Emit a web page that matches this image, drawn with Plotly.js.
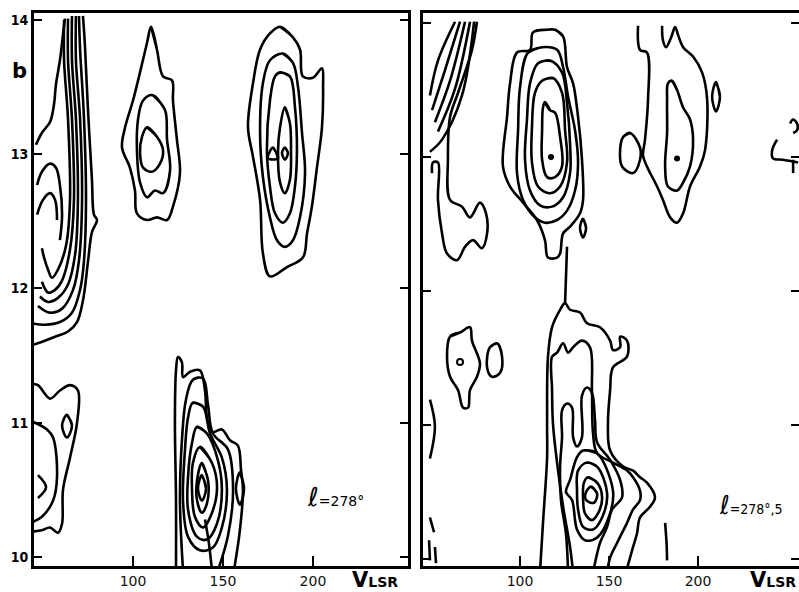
<!DOCTYPE html>
<html>
<head>
<meta charset="utf-8">
<script src="https://cdn.plot.ly/plotly-3.0.1.min.js"></script>
<style>html,body{margin:0;padding:0;background:#fff;}#chart{width:799px;height:592px;}</style>
</head>
<body>
<div id="chart"></div>
<script>
// ---------- axis ticks ----------
const vTicks = [100, 150, 200];
const vTickLabels = ['100', '150', '200'];
const bTicks = [10, 11, 12, 13, 14];
const bTickLabels = ['10', '11', '12', '13', '14'];

// ---------- LEFT PANEL (l = 278°) : contour lines [v_LSR, b] ----------
// clump near v=110, b=13
const L_a1 = [[110,13.95],[113.3,13.78],[116.7,13.58],[121.7,13.55],[122.2,13.40],[124.4,13.11],[126.1,12.86],[122.2,12.61],[118.9,12.51],[113.3,12.53],[107.8,12.51],[102.2,12.56],[101.1,12.73],[98.3,12.90],[93.9,13.05],[95.6,13.20],[100,13.40],[103.9,13.61],[107.8,13.83]];
const L_a2 = [[111.1,13.44],[117.8,13.33],[118.9,13.11],[120.6,12.88],[116.7,12.71],[112.2,12.73],[107.8,12.68],[103.9,12.79],[102.2,13.03],[102.8,13.26],[105.6,13.40]];
const L_a3 = [[107.8,13.20],[113.3,13.13],[116.7,13.03],[115,12.93],[110.6,12.87],[105.6,12.90],[103.9,13.01],[105,13.13]];
// clump near v=185, b=13
const L_b1 = [[181.7,13.95],[188.9,13.87],[192.8,13.78],[194.4,13.58],[200,13.57],[205,13.64],[205.6,13.50],[205,13.20],[202.2,12.90],[199.4,12.61],[196.7,12.41],[194.4,12.23],[185.6,12.16],[176.1,12.09],[172.2,12.26],[170.6,12.66],[166.7,12.98],[163.9,13.20],[166.7,13.53],[170.6,13.78],[176.1,13.90]];
const L_b2 = [[183.3,13.75],[188.9,13.68],[191.7,13.50],[193.9,13.16],[195.6,12.86],[192.8,12.53],[188.9,12.36],[184.4,12.31],[180,12.36],[176.1,12.53],[172.2,12.83],[170.6,13.16],[172.2,13.53],[176.1,13.70]];
const L_b3 = [[181.7,13.61],[187.2,13.58],[190,13.35],[191.1,13.03],[190,12.76],[187.2,12.56],[183.3,12.49],[178.9,12.56],[176.1,12.76],[174.4,13.03],[176.1,13.40],[178.9,13.58]];
const L_b4 = [[184.4,13.35],[187.2,13.23],[187.8,13.03],[187.2,12.81],[184.4,12.71],[181.7,12.79],[180.6,13.03],[181.7,13.20]];
const L_b5 = [[177.8,13.05],[180.6,12.97],[175,12.97]];
const L_b6 = [[184.4,13.05],[186.1,13.01],[184.4,12.96],[182.8,13.01]];
// ridge along the left edge
const L_r1 = [[72.2,14.03],[73.3,13.81],[75.0,13.33],[77.2,12.81],[78.3,12.55],[80.0,12.51],[77.2,12.42],[75.0,12.20],[72.2,11.91],[68.9,11.75],[63.9,11.68],[56.7,11.64],[46.7,11.59],[44,11.58]];
const L_r2 = [[70.0,14.03],[70.6,13.78],[72.8,13.26],[73.9,12.66],[72.8,12.21],[70.6,11.99],[66.1,11.82],[59.4,11.75],[51.1,11.73],[44,11.74]];
const L_r3 = [[68.3,14.03],[68.3,13.70],[70.6,13.26],[71.7,12.66],[70.0,12.21],[66.7,11.99],[60.6,11.85],[53.9,11.82],[47.2,11.87]];
const L_r4 = [[66.1,14.03],[66.1,13.70],[68.3,13.26],[69.4,12.66],[67.8,12.25],[63.9,12.03],[58.3,11.93],[52.8,11.90],[48.3,11.94]];
const L_r5 = [[63.9,14.01],[63.9,13.70],[66.1,13.26],[67.2,12.66],[65.0,12.29],[60.6,12.06],[56.7,11.99],[52.8,11.97],[49.4,12.05]];
const L_r6 = [[61.7,14.0],[61.7,13.70],[63.9,13.26],[65.0,12.66],[62.8,12.32],[58.3,12.14],[55.0,12.08],[52.8,12.14],[50.6,12.23],[49.4,12.30]];
const L_w1 = [[46.1,13.07],[49.4,13.16],[53.9,13.24],[56.1,13.37],[57.2,13.52],[59.4,13.70],[61.1,13.89],[62.2,14.01]];
const L_w2 = [[46.7,12.77],[49.4,12.87],[53.9,12.93],[57.2,12.90],[59.4,12.77],[60.6,12.55],[59.4,12.36]];
const L_w3 = [[46.7,12.55],[50.0,12.66],[53.9,12.71],[56.7,12.66],[57.8,12.51]];
// lower-left feature
const L_c1 = [[44,11.29],[47.2,11.28],[53.9,11.18],[59.4,11.24],[65.0,11.28],[69.4,11.24],[68.9,11.0],[65.0,10.74],[61.1,10.50],[60.6,10.25],[58.3,10.18],[53.9,10.22],[49.4,10.20],[44,10.19]];
const L_c2 = [[44,11.01],[52.2,10.95],[55.6,10.89],[57.8,10.60],[55.6,10.42],[49.4,10.30],[44,10.26]];
const L_c3 = [[63.3,11.06],[66.1,10.98],[63.3,10.89],[60.6,10.98]];
const L_c4 = [[47.2,10.61],[51.7,10.52],[47.2,10.44]];
// clump near v=138, b=10.5
const L_d0 = [[123.9,9.9],[123.9,10.42],[123.3,11.02],[123.9,11.39],[125.0,11.49],[127.2,11.45],[127.8,11.34],[131.7,11.38],[137.2,11.39],[140.0,11.24],[141.1,11.04],[143.9,10.93],[149.4,10.95],[153.9,10.87],[158.3,10.83],[160.0,10.65],[161.1,10.50],[159.4,10.20],[156.1,9.9]];
const L_d1 = [[127.8,9.9],[126.1,10.42],[127.2,10.87],[129.4,11.17],[133.3,11.32],[138.9,11.33],[141.7,11.13],[144.4,10.92],[152.8,10.80],[155.6,10.50],[152.8,10.16],[147.2,9.9]];
const L_d2 = [[133.3,11.15],[138.9,11.12],[142.8,10.92],[149.4,10.74],[152.2,10.50],[149.4,10.22],[144.4,10.07],[137.2,10.05],[130.6,10.15],[127.8,10.42],[128.9,10.80],[130.6,11.04]];
const L_d3 = [[135.6,10.97],[141.1,10.92],[147.2,10.72],[149.4,10.50],[146.7,10.25],[141.1,10.13],[135.6,10.15],[130.6,10.35],[130.6,10.60],[132.8,10.85]];
const L_d4 = [[137.2,10.82],[143.9,10.70],[146.7,10.52],[143.9,10.33],[138.9,10.22],[134.4,10.30],[132.8,10.50],[133.3,10.70]];
const L_d5 = [[138.3,10.70],[141.7,10.57],[141.1,10.40],[138.3,10.33],[135.6,10.42],[135.6,10.57]];
const L_d6 = [[138.3,10.61],[140.6,10.51],[138.3,10.42],[136.1,10.51]];
const L_d7 = [[159.4,10.63],[161.7,10.51],[159.4,10.39],[157.2,10.51]];
const L_d8 = [[140,10.28],[142,10.12],[143.9,9.9]];

const leftClosed = [L_a1, L_a2, L_a3, L_b1, L_b2, L_b3, L_b4, L_b5, L_b6, L_c3, L_d2, L_d3, L_d4, L_d5, L_d6, L_d7];
const leftOpen = [L_r1, L_r2, L_r3, L_r4, L_r5, L_r6, L_w1, L_w2, L_w3, L_c1, L_c2, L_c4, L_d0, L_d1, L_d8];

// ---------- RIGHT PANEL (l = 278°5) ----------
const R_r1 = [[63.5,14.01],[53.9,13.72],[49.4,13.46]];
const R_r2 = [[66.3,14.01],[57.9,13.65],[50.6,13.35]];
const R_r3 = [[69.1,14.01],[60.7,13.57],[52.2,13.26]];
const R_r4 = [[71.9,14.01],[63.5,13.51],[53.9,13.19]];
const R_r5 = [[74.2,14.01],[67.4,13.46],[56.2,13.13],[49.4,13.04]];
const R_r6 = [[75.8,14.01],[73.0,13.80],[65.2,13.48],[60.7,13.30],[59.5,12.98],[60.7,12.68],[67.4,12.63],[71.9,12.55],[77.5,12.66],[80.9,12.58],[81.5,12.43],[78.6,12.32],[73.6,12.38],[69.1,12.33],[64.6,12.23],[59.0,12.28],[56.2,12.43],[53.9,12.68],[53.9,12.96],[51.1,12.96],[50.6,12.88]];
// clump near v=117, b=13
const R_a1 = [[119.7,13.95],[124.2,13.90],[126.4,13.67],[129.8,13.55],[132.6,13.30],[134.8,12.98],[135.4,12.68],[133.7,12.58],[128.1,12.48],[124.2,12.43],[122.5,12.28],[120.8,12.25],[115.7,12.25],[114.0,12.38],[109.5,12.53],[101.7,12.66],[94.4,12.78],[90.4,12.93],[92.7,13.30],[94.4,13.55],[98.3,13.78],[105.6,13.80],[107.3,13.93],[115.2,13.95]];
const R_a2 = [[104.5,13.78],[112.4,13.82],[120.8,13.80],[124.2,13.67],[127.0,13.45],[130.9,13.20],[132.6,12.96],[130.9,12.75],[126.4,12.60],[120.8,12.53],[114.0,12.51],[108.4,12.55],[101.7,12.68],[98.3,12.88],[98.9,13.20],[100.0,13.52]];
const R_a3 = [[110.1,13.70],[116.8,13.72],[123.6,13.63],[126.4,13.40],[128.1,13.10],[128.1,12.88],[124.2,12.70],[118.0,12.63],[111.2,12.64],[105.6,12.75],[102.8,12.98],[103.9,13.28],[105.6,13.55]];
const R_a4 = [[112.4,13.57],[118.5,13.59],[123.6,13.48],[125.3,13.20],[126.4,12.96],[122.5,12.78],[116.8,12.73],[110.1,12.78],[106.7,12.96],[106.7,13.22],[108.4,13.48]];
const R_a5 = [[114.0,13.41],[116.8,13.35],[119.7,13.33],[122.5,13.15],[123.6,12.93],[119.7,12.85],[115.2,12.85],[112.4,12.98],[112.4,13.20],[112.9,13.37]];
const R_a6 = [[135.4,12.54],[137.1,12.47],[135.4,12.40],[133.7,12.47]];
// clump near v=188, b=13
const R_b1 = [[166.3,13.98],[167.4,13.80],[171.3,13.78],[171.9,13.43],[170.2,13.13],[169.1,13.01],[171.3,12.93],[177.0,12.78],[180.3,12.68],[184.3,12.55],[188.2,12.51],[191.6,12.58],[195.5,12.78],[201.1,12.93],[203.9,13.05],[205.1,13.43],[202.3,13.63],[197.2,13.75],[191.6,13.82],[188.8,13.91],[187.1,13.97],[184.8,13.89],[182.0,13.82],[180.3,13.87],[179.8,13.98]];
const R_b2 = [[157.9,13.15],[161.8,13.18],[167.4,13.07],[167.4,12.98],[163.5,12.88],[157.3,12.93],[156.2,13.05]];
const R_b3 = [[185.4,13.57],[188.2,13.50],[191.6,13.37],[195.5,13.28],[197.2,13.13],[195.5,12.93],[191.6,12.81],[188.2,12.75],[183.1,12.78],[181.5,12.93],[182.6,13.18],[182.6,13.43],[183.1,13.55]];
const R_b4 = [[210.1,13.56],[212.3,13.45],[210.1,13.34],[207.9,13.45]];
const R_q1 = [[251.7,13.25],[253.4,13.28],[255.6,13.25],[255.6,13.20],[253.4,13.18]];
const R_q2 = [[244.4,13.13],[241.6,13.05],[242.1,12.99],[247.7,12.98],[256.2,12.96]];
const R_q3 = [[253.4,12.98],[253.4,12.88]];
// clump near v=140, b=10.5
const R_c1 = [[111.2,9.9],[112.9,10.27],[115.2,10.76],[115.2,11.01],[115.7,11.51],[118.0,11.73],[122.5,11.86],[125.3,11.91],[128.1,11.86],[133.7,11.84],[137.6,11.76],[144.9,11.73],[150.6,11.63],[152.2,11.56],[156.2,11.58],[156.2,11.66],[160.1,11.63],[160.1,11.51],[152.2,11.43],[150.6,11.26],[149.4,11.01],[150.6,10.81],[157.9,10.69],[163.5,10.66],[167.4,10.61],[171.3,10.57],[175.8,10.46],[173.0,10.39],[167.4,10.31],[165.7,10.19],[163.5,10.09],[161.8,10.01],[159.5,9.9]];
const R_tail = [[126.4,12.33],[125.8,12.10],[125.3,11.91]];
const R_c2 = [[129.8,9.9],[128.1,10.09],[124.2,10.39],[120.8,10.72],[118.5,11.01],[118.0,11.26],[118.0,11.51],[120.8,11.54],[124.2,11.61],[127.0,11.54],[129.8,11.58],[134.8,11.63],[139.3,11.58],[140.4,11.26],[141.0,10.94],[143.3,10.79],[152.2,10.72],[160.1,10.66],[163.5,10.61],[167.4,10.51],[167.4,10.44],[163.5,10.37],[160.1,10.27],[154.5,10.12],[150.6,10.01],[148.9,9.9]];
const R_c3 = [[127.0,9.9],[125.8,10.19],[123.0,10.44],[122.5,10.69],[123.6,10.91],[123.6,11.11],[126.4,11.16],[129.2,11.13],[129.8,10.91],[132.0,10.84],[134.8,10.91],[134.8,11.22],[137.6,11.28],[140.4,11.24],[142.1,11.04],[143.3,10.87],[150.6,10.74],[156.2,10.59],[157.3,10.46],[151.7,10.37],[148.9,10.24],[144.9,10.12],[143.3,10.04],[141.0,9.9]];
const R_c4 = [[135.4,10.81],[143.3,10.79],[152.2,10.51],[150.6,10.34],[143.3,10.16],[136.5,10.14],[132.0,10.22],[129.2,10.44],[125.8,10.50],[128.1,10.59],[132.0,10.76]];
const R_c5 = [[137.6,10.72],[143.3,10.69],[148.9,10.49],[146.1,10.31],[141.0,10.22],[135.4,10.24],[132.6,10.37],[132.0,10.51],[132.6,10.66]];
const R_c6 = [[138.2,10.61],[143.3,10.57],[146.1,10.46],[143.8,10.34],[140.4,10.29],[136.5,10.34],[135.4,10.46],[135.9,10.57]];
const R_c7 = [[139.9,10.54],[143.3,10.49],[141.6,10.42],[137.1,10.44],[137.1,10.50]];
// small features on the left and bottom
const R_d1 = [[60.7,11.66],[66.3,11.69],[71.9,11.73],[73.0,11.63],[77.5,11.46],[75.8,11.36],[71.9,11.26],[70.8,11.13],[68.0,11.13],[65.2,11.26],[60.7,11.36],[59.0,11.51]];
const R_d2 = [[83.1,11.58],[87.1,11.61],[89.9,11.51],[88.8,11.39],[84.3,11.36],[81.5,11.43]];
const R_e1 = [[49.4,11.19],[52.2,10.99],[49.4,10.75]];
const R_s1 = [[49.4,10.31],[51.7,10.20]];
const R_s2 = [[48.9,10.14],[49.4,9.99]];
const R_s3 = [[52.2,10.09],[52.8,9.97]];
const R_f1 = [[181.5,10.27],[182.3,10.12],[182.6,9.99]];

const rightClosed = [R_a1, R_a2, R_a3, R_a4, R_a5, R_a6, R_b2, R_b3, R_b4, R_c4, R_c5, R_c6, R_c7, R_d1, R_d2];
const rightOpen = [R_r1, R_r2, R_r3, R_r4, R_r5, R_r6, R_b1, R_q1, R_q2, R_q3, R_c1, R_tail, R_c2, R_c3, R_e1, R_s1, R_s2, R_s3, R_f1];

// peak dots
const R_dots = [[117.4, 13.0], [188.2, 12.99]];
const R_rings = [[66.3, 11.47]];

// ---------- build traces ----------
const LW = 2.6;
const traces = [];
function addLine(pts, closed, xa, ya) {
  const p = closed ? pts.concat([pts[0], pts[1]]) : pts;
  traces.push({
    type: 'scatter', mode: 'lines', xaxis: xa, yaxis: ya,
    x: p.map(d => d[0]), y: p.map(d => d[1]),
    line: {color: '#000', width: LW, shape: 'spline', smoothing: 1},
    hoverinfo: 'skip', showlegend: false
  });
}
leftClosed.forEach(p => addLine(p, true, 'x', 'y'));
leftOpen.forEach(p => addLine(p, false, 'x', 'y'));
rightClosed.forEach(p => addLine(p, true, 'x2', 'y2'));
rightOpen.forEach(p => addLine(p, false, 'x2', 'y2'));
traces.push({type: 'scatter', mode: 'markers', xaxis: 'x2', yaxis: 'y2',
  x: R_dots.map(d => d[0]), y: R_dots.map(d => d[1]),
  marker: {color: '#000', size: 6}, hoverinfo: 'skip', showlegend: false});
traces.push({type: 'scatter', mode: 'markers', xaxis: 'x2', yaxis: 'y2',
  x: R_rings.map(d => d[0]), y: R_rings.map(d => d[1]),
  marker: {color: '#fff', size: 6, line: {color: '#000', width: 2}}, hoverinfo: 'skip', showlegend: false});

const axFont = {family: 'DejaVu Sans', size: 14, color: '#111'};
const xCommon = {
  tickvals: vTicks, ticktext: vTickLabels, ticks: 'inside', ticklen: 10, tickwidth: 2, tickcolor: '#000',
  showline: true, linewidth: 3, linecolor: '#000', mirror: true, showgrid: false, zeroline: false,
  tickfont: axFont, fixedrange: true
};
const yCommon = {
  tickvals: bTicks, ticktext: bTickLabels, ticks: 'inside', ticklen: 8, tickwidth: 2, tickcolor: '#000',
  showline: true, linewidth: 3, linecolor: '#000', mirror: 'ticks', showgrid: false, zeroline: false,
  fixedrange: true
};

const layout = {
  width: 799, height: 592,
  margin: {l: 0, r: 0, t: 13, b: 26},
  paper_bgcolor: '#fff', plot_bgcolor: '#fff',
  showlegend: false, hovermode: false,
  xaxis: Object.assign({}, xCommon, {domain: [34/799, 408/799], range: [45.0, 252.8], anchor: 'y'}),
  yaxis: Object.assign({}, yCommon, {domain: [0, 1], range: [9.933, 14.052], anchor: 'x',
    showticklabels: true, tickfont: {family: 'DejaVu Sans Condensed', size: 14, color: '#000', weight: 'bold'}}),
  xaxis2: Object.assign({}, xCommon, {domain: [423/799, 1], range: [45.5, 256.7], anchor: 'y2'}),
  yaxis2: Object.assign({}, yCommon, {domain: [0, 1], range: [9.948, 14.075], anchor: 'x2', showticklabels: false}),
  annotations: [
    {xref: 'paper', yref: 'paper', x: 19/799, y: (566-71)/553, xanchor: 'center', yanchor: 'middle', text: 'b', showarrow: false,
      font: {family: 'DejaVu Sans', size: 21, color: '#000', weight: 'bold'}},
    {xref: 'paper', yref: 'paper', x: 350/799, y: (566-580)/553, xanchor: 'left', yanchor: 'middle', text: 'V<span style="font-size:14px">LSR</span>',
      showarrow: false, font: {family: 'DejaVu Sans', size: 21, color: '#000', weight: 'bold'}},
    {xref: 'paper', yref: 'paper', x: 748/799, y: (566-580)/553, xanchor: 'left', yanchor: 'middle', text: 'V<span style="font-size:14px">LSR</span>',
      showarrow: false, font: {family: 'DejaVu Sans', size: 21, color: '#000', weight: 'bold'}},
    {xref: 'x', yref: 'y', x: 195.6, y: 10.45, xanchor: 'left', yanchor: 'middle', text: '<span style="font-size:26px">ℓ</span>=278°',
      showarrow: false, font: {family: 'DejaVu Sans', size: 14, color: '#000'}},
    {xref: 'x2', yref: 'y2', x: 210.7, y: 10.40, xanchor: 'left', yanchor: 'middle', text: '<span style="font-size:26px">ℓ</span>=278°,5',
      showarrow: false, font: {family: 'DejaVu Sans Condensed', size: 14, color: '#000'}}
  ]
};

Plotly.newPlot('chart', traces, layout, {displayModeBar: false, staticPlot: true});
</script>
</body>
</html>
